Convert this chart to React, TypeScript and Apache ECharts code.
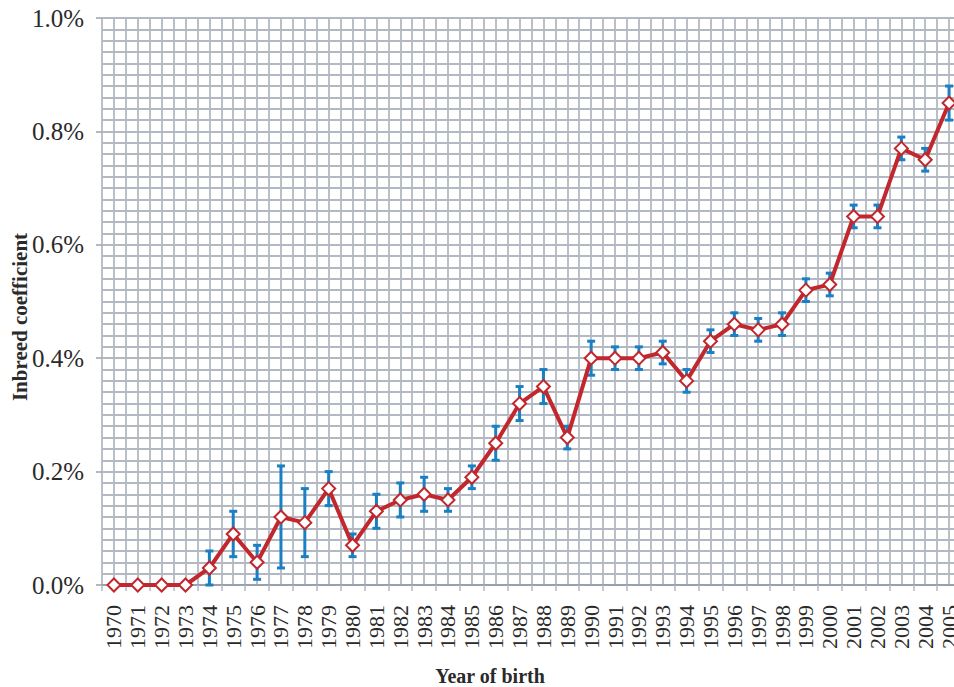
import React, { useEffect, useRef } from "react";
import * as echarts from "echarts";

const years = [
  "1970","1971","1972","1973","1974","1975","1976","1977","1978","1979",
  "1980","1981","1982","1983","1984","1985","1986","1987","1988","1989",
  "1990","1991","1992","1993","1994","1995","1996","1997","1998","1999",
  "2000","2001","2002","2003","2004","2005",
];
const coefficient = [
  0, 0, 0, 0, 0.03, 0.09, 0.04, 0.12, 0.11, 0.17,
  0.07, 0.13, 0.15, 0.16, 0.15, 0.19, 0.25, 0.32, 0.35, 0.26,
  0.40, 0.40, 0.40, 0.41, 0.36, 0.43, 0.46, 0.45, 0.46, 0.52,
  0.53, 0.65, 0.65, 0.77, 0.75, 0.85,
];
const lowerBound = [
  0, 0, 0, 0, 0.0, 0.05, 0.01, 0.03, 0.05, 0.14,
  0.05, 0.10, 0.12, 0.13, 0.13, 0.17, 0.22, 0.29, 0.32, 0.24,
  0.37, 0.38, 0.38, 0.39, 0.34, 0.41, 0.44, 0.43, 0.44, 0.50,
  0.51, 0.63, 0.63, 0.75, 0.73, 0.82,
];
const upperBound = [
  0, 0, 0, 0, 0.06, 0.13, 0.07, 0.21, 0.17, 0.20,
  0.09, 0.16, 0.18, 0.19, 0.17, 0.21, 0.28, 0.35, 0.38, 0.28,
  0.43, 0.42, 0.42, 0.43, 0.38, 0.45, 0.48, 0.47, 0.48, 0.54,
  0.55, 0.67, 0.67, 0.79, 0.77, 0.88,
];

const FONT = "'Liberation Serif', serif";
const GRID_COLOR = "#b3b9c2";

export default function App() {
  const ref = useRef<HTMLDivElement>(null);
  useEffect(() => {
    if (!ref.current) return;
    const chart = echarts.init(ref.current, undefined, { renderer: "svg" });
    const errData = years.map((_, i) => [i, lowerBound[i], upperBound[i]]);
    chart.setOption({
      animation: false,
      backgroundColor: "#ffffff",
      textStyle: { fontFamily: FONT },
      grid: { left: 102, top: 18, width: 859, height: 567, containLabel: false },
      xAxis: [
        {
          type: "category",
          data: years,
          boundaryGap: true,
          axisLine: { show: true, lineStyle: { color: "#98a0ab", width: 2 } },
          axisTick: { show: true, length: 6, lineStyle: { color: "#b3b9c2", width: 1.5 } },
          axisLabel: {
            rotate: 90,
            interval: 0,
            margin: 20,
            fontFamily: FONT,
            fontSize: 22,
            color: "#2a2a2a",
          },
          splitLine: { show: false },
          z: 3,
        },
        {
          type: "value",
          min: 0,
          max: 36,
          interval: 0.5,
          position: "bottom",
          axisLine: { show: false },
          axisTick: { show: false },
          axisLabel: { show: false },
          splitLine: { show: true, lineStyle: { color: GRID_COLOR, width: 1.8 } },
        },
      ],
      yAxis: [
        {
          type: "value",
          min: 0,
          max: 1.0,
          interval: 0.2,
          axisLine: { show: false },
          axisTick: { show: true, length: 6, lineStyle: { color: "#9aa2ad", width: 1.5 } },
          axisLabel: {
            margin: 18,
            fontFamily: FONT,
            fontSize: 25,
            color: "#2a2a2a",
            formatter: (v: number) => v.toFixed(1) + "%",
          },
          splitLine: { show: false },
        },
        {
          type: "value",
          min: 0,
          max: 1.0,
          interval: 0.02,
          axisLine: { show: false },
          axisTick: { show: false },
          axisLabel: { show: false },
          splitLine: { show: true, lineStyle: { color: GRID_COLOR, width: 1.8 } },
        },
      ],
      graphic: [
        {
          type: "text",
          x: 20,
          y: 317,
          rotation: Math.PI / 2,
          style: {
            text: "Inbreed coefficient",
            fontFamily: FONT,
            fontWeight: "bold",
            fontSize: 21,
            fill: "#2a2a2a",
            textAlign: "center",
            textVerticalAlign: "middle",
          },
        },
        {
          type: "text",
          x: 490,
          y: 676,
          style: {
            text: "Year of birth",
            fontFamily: FONT,
            fontWeight: "bold",
            fontSize: 20,
            fill: "#2a2a2a",
            textAlign: "center",
            textVerticalAlign: "middle",
          },
        },
      ],
      series: [
        {
          type: "custom",
          xAxisIndex: 0,
          yAxisIndex: 0,
          z: 4,
          data: errData,
          encode: { x: 0, y: [1, 2] },
          renderItem: (params: any, api: any) => {
            const x = api.value(0);
            const lo = api.value(1);
            const hi = api.value(2);
            if (hi === lo) return null;
            const pHi = api.coord([x, hi]);
            const pLo = api.coord([x, lo]);
            const hw = 4;
            const style = { stroke: "#1a7fc3", lineWidth: 3 };
            return {
              type: "group",
              children: [
                { type: "line", shape: { x1: pHi[0], y1: pHi[1], x2: pLo[0], y2: pLo[1] }, style },
                { type: "line", shape: { x1: pHi[0] - hw, y1: pHi[1], x2: pHi[0] + hw, y2: pHi[1] }, style },
                { type: "line", shape: { x1: pLo[0] - hw, y1: pLo[1], x2: pLo[0] + hw, y2: pLo[1] }, style },
              ],
            };
          },
        },
        {
          type: "line",
          xAxisIndex: 0,
          yAxisIndex: 0,
          z: 5,
          data: coefficient,
          symbol: "diamond",
          symbolSize: 13,
          showAllSymbol: true,
          lineStyle: { color: "#c1272d", width: 4 },
          itemStyle: { color: "#ffffff", borderColor: "#c1272d", borderWidth: 2 },
        },
      ],
    });
    return () => chart.dispose();
  }, []);
  return (
    <div
      style={{ position: "fixed", left: 0, top: 0, width: 954, height: 687, overflow: "hidden", background: "#fff" }}
    >
      <div ref={ref} style={{ width: 975, height: 687 }} />
    </div>
  );
}
